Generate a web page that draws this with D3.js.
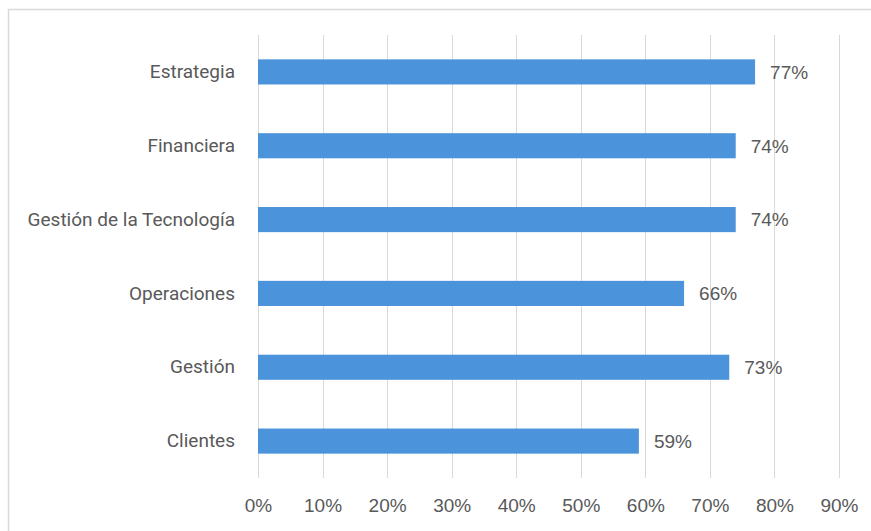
<!DOCTYPE html>
<html>
<head>
<meta charset="utf-8">
<script src="https://cdn.jsdelivr.net/npm/d3@7"></script>
<style>
  html, body { margin: 0; padding: 0; background: #ffffff; }
  svg { display: block; }
</style>
</head>
<body>
<svg id="chart" width="871" height="531"></svg>
<script>
// Categories, top to bottom
const categories = [
  "Estrategia",
  "Financiera",
  "Gestión de la Tecnología",
  "Operaciones",
  "Gestión",
  "Clientes"
];
// Share per category (percent)
const values = [77, 74, 74, 66, 73, 59];
// Axis ticks (percent)
const tickValues = [0, 10, 20, 30, 40, 50, 60, 70, 80, 90];

const svg = d3.select("#chart");
const W = 871, H = 531;

// chart frame
svg.append("rect")
  .attr("x", 8.5).attr("y", 9.5)
  .attr("width", W + 10).attr("height", H + 10)
  .attr("fill", "#ffffff")
  .attr("stroke", "#d9d9d9")
  .attr("stroke-width", 1.5);

const plot = { left: 258, right: 839, top: 35, bottom: 478 };

const x = d3.scaleLinear()
  .domain([0, 90])
  .range([plot.left, plot.right]);

const y = d3.scaleBand()
  .domain(categories)
  .range([plot.top, plot.bottom])
  .paddingInner(0.66)
  .paddingOuter(0.33);

// vertical gridlines
svg.append("g")
  .selectAll("line")
  .data(tickValues)
  .join("line")
  .attr("x1", d => Math.round(x(d)) + 0.5)
  .attr("x2", d => Math.round(x(d)) + 0.5)
  .attr("y1", plot.top)
  .attr("y2", plot.bottom)
  .attr("stroke", "#d9d9d9")
  .attr("stroke-width", 1);

// bars
svg.append("g")
  .selectAll("rect")
  .data(values)
  .join("rect")
  .attr("x", x(0))
  .attr("y", (d, i) => y(categories[i]))
  .attr("width", d => x(d) - x(0))
  .attr("height", y.bandwidth())
  .attr("fill", "#4b93da");

// value labels
svg.append("g")
  .selectAll("text")
  .data(values)
  .join("text")
  .attr("x", d => x(d) + 15)
  .attr("y", (d, i) => y(categories[i]) + y.bandwidth() / 2)
  .attr("dy", "0.36em")
  .attr("font-family", "Liberation Sans, Arial, sans-serif")
  .attr("font-size", 19)
  .attr("fill", "#595959")
  .text(d => d + "%");

// category axis labels
const yAxis = d3.axisLeft(y).tickSize(0).tickPadding(23);
const gy = svg.append("g")
  .attr("transform", `translate(${plot.left},0)`)
  .call(yAxis);
gy.select(".domain").remove();
gy.selectAll("text")
  .attr("font-family", "Roboto, sans-serif")
  .attr("font-size", 19)
  .attr("fill", "#595959");

// percentage axis labels
const xAxis = d3.axisBottom(x)
  .tickValues(tickValues)
  .tickSize(0)
  .tickPadding(0)
  .tickFormat(d => d + "%");
const gx = svg.append("g")
  .attr("transform", `translate(0,${plot.bottom + 20.5})`)
  .call(xAxis);
gx.select(".domain").remove();
gx.selectAll("text")
  .attr("font-family", "Liberation Sans, Arial, sans-serif")
  .attr("font-size", 19)
  .attr("fill", "#595959");
</script>
</body>
</html>
